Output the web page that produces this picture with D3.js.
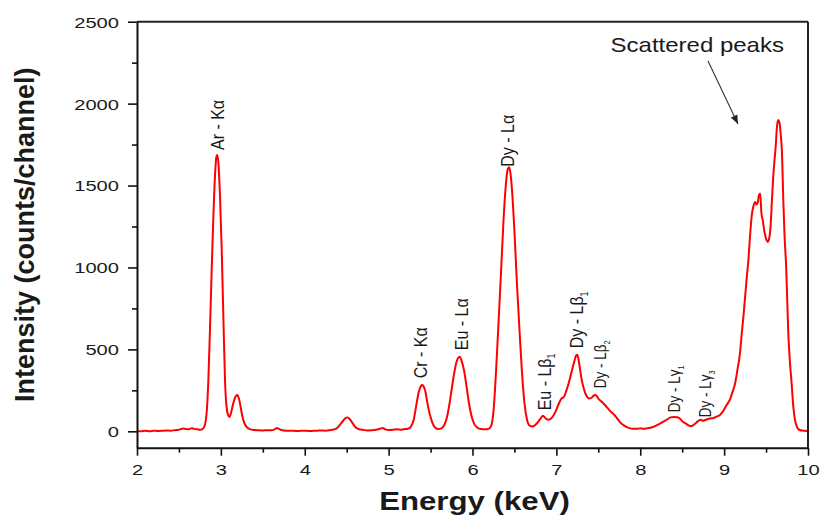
<!DOCTYPE html>
<html>
<head>
<meta charset="utf-8">
<script src="https://cdn.jsdelivr.net/npm/d3@7"></script>
<style>
  body { margin: 0; background: #fff; }
  svg { display: block; }
  text { font-family: "Liberation Sans", Arial, sans-serif; fill: #1a1a1a; }
</style>
</head>
<body>
<svg id="chart" width="820" height="515"></svg>
<script>
// spectrum (keV, counts/channel)
const energy = [
  2.00, 2.05, 2.10, 2.15, 2.20, 2.25, 2.30, 2.35, 2.40, 2.45, 2.50, 2.55, 2.58, 2.62, 2.65, 2.68, 2.72, 2.76, 2.79,
  2.81, 2.83, 2.85, 2.87, 2.89, 2.91, 2.93, 2.945, 2.956, 2.97, 2.99, 3.01, 3.03, 3.05, 3.07, 3.09, 3.105,
  3.12, 3.15, 3.175, 3.195, 3.215, 3.235, 3.255, 3.28, 3.31, 3.35, 3.40, 3.45, 3.50, 3.55, 3.60, 3.64, 3.67,
  3.70, 3.75, 3.80, 3.85, 3.90, 3.95, 4.00, 4.05, 4.10, 4.15, 4.20, 4.25, 4.30, 4.35, 4.39, 4.42, 4.46, 4.49,
  4.51, 4.54, 4.57, 4.60, 4.64, 4.70, 4.75, 4.80, 4.85, 4.90, 4.93, 4.96, 5.00, 5.05, 5.10, 5.15, 5.20, 5.24,
  5.27, 5.30, 5.33, 5.36, 5.385, 5.40, 5.415, 5.435, 5.46, 5.49, 5.52, 5.55, 5.59, 5.63, 5.66, 5.69, 5.72,
  5.75, 5.78, 5.81, 5.835, 5.85, 5.87, 5.90, 5.93, 5.96, 5.99, 6.02, 6.06, 6.10, 6.15, 6.19, 6.22, 6.25, 6.28,
  6.31, 6.34, 6.37, 6.40, 6.42, 6.435, 6.45, 6.47, 6.50, 6.53, 6.56, 6.59, 6.62, 6.65, 6.68, 6.72, 6.76, 6.80,
  6.84, 6.87, 6.91, 6.95, 6.99, 7.03, 7.06, 7.09, 7.12, 7.15, 7.18, 7.21, 7.235, 7.25, 7.27, 7.30, 7.33, 7.36,
  7.39, 7.42, 7.45, 7.47, 7.50, 7.53, 7.57, 7.60, 7.64, 7.67, 7.70, 7.73, 7.76, 7.80, 7.84, 7.88, 7.92, 7.96,
  8.00, 8.04, 8.08, 8.12, 8.16, 8.20, 8.24, 8.28, 8.32, 8.36, 8.40, 8.44, 8.47, 8.50, 8.54, 8.58, 8.61, 8.65,
  8.69, 8.72, 8.75, 8.79, 8.83, 8.87, 8.91, 8.95, 8.99, 9.03, 9.07, 9.10, 9.13, 9.16, 9.19, 9.21, 9.23, 9.25,
  9.27, 9.29, 9.31, 9.33, 9.35, 9.37, 9.385, 9.40, 9.415, 9.43, 9.445, 9.46, 9.48, 9.50, 9.52, 9.54, 9.555,
  9.57, 9.585, 9.60, 9.615, 9.63, 9.645, 9.66, 9.675, 9.69, 9.705, 9.72, 9.74, 9.765, 9.785, 9.805, 9.825,
  9.845, 9.87, 9.90, 9.94, 9.97, 10.00
];
const counts = [
  2, 0, 3, 1, 4, 2, 3, 5, 4, 7, 10, 17, 14, 12, 19, 15, 12, 10, 18,
  40, 110, 300, 620, 980, 1300, 1560, 1670, 1686, 1640, 1430, 1110, 690, 300, 140, 95, 88,
  110, 175, 212, 222, 200, 150, 95, 50, 25, 12, 8, 6, 5, 7, 6, 12, 21,
  12, 5, 3, 4, 2, 3, 4, 2, 3, 4, 5, 4, 7, 12, 22, 40, 66, 82,
  84, 72, 50, 28, 14, 8, 5, 6, 9, 16, 21, 12, 8, 9, 12, 10, 14, 17,
  32, 72, 160, 242, 276, 282, 276, 250, 180, 105, 55, 25, 14, 18, 35, 75, 150,
  250, 350, 425, 452, 455, 430, 370, 270, 165, 90, 45, 22, 14, 12, 15, 30, 120, 360,
  660, 970, 1290, 1520, 1600, 1612, 1585, 1480, 1220, 900, 620, 360, 170, 70, 35, 30, 45, 70,
  95, 80, 70, 85, 120, 170, 200, 210, 250, 300, 360, 420, 462, 468, 420, 320, 255, 215,
  200, 205, 220, 222, 200, 185, 165, 148, 125, 110, 95, 75, 55, 38, 25, 18, 16, 15,
  18, 15, 18, 22, 28, 38, 48, 60, 72, 85, 88, 86, 78, 62, 48, 35, 32, 45,
  62, 70, 65, 72, 78, 80, 90, 100, 125, 160, 195, 240, 290, 380, 480, 597, 700, 820,
  940, 1050, 1200, 1320, 1375, 1400, 1385, 1395, 1440, 1452, 1330, 1290, 1220, 1175, 1156, 1185, 1260,
  1410, 1550, 1650, 1740, 1860, 1900, 1885, 1810, 1700, 1420, 1200, 1000, 600, 420, 290, 150,
  68, 25, 8, 4, 3, 2
];

const xTicks = [2, 3, 4, 5, 6, 7, 8, 9, 10];
const xMinor = [2.5, 3.5, 4.5, 5.5, 6.5, 7.5, 8.5, 9.5];
const yTicks = [0, 500, 1000, 1500, 2000, 2500];
const yMinor = [250, 750, 1250, 1750, 2250];

// peak labels: name, subscript, anchor (keV, counts) at the bottom of the rotated text
const peakName = ['Ar - K\u03b1', 'Cr - K\u03b1', 'Eu - L\u03b1', 'Dy - L\u03b1', 'Eu - L\u03b2', 'Dy - L\u03b2', 'Dy - L\u03b2', 'Dy - L\u03b3', 'Dy - L\u03b3'];
const peakSub = ['', '', '', '', '1', '1', '2', '1', '3'];
const peakE = [2.96, 5.37, 5.86, 6.41, 6.85, 7.24, 7.52, 8.40, 8.77];
const peakI = [1717, 324, 495, 1615, 128, 507, 263, 116, 86];
const peakSmall = [false, false, false, false, false, false, true, true, true];

const x = d3.scaleLinear().domain([2, 10]).range([137, 808]);
const y = d3.scaleLinear().domain([-100, 2500]).range([447.7, 21.7]);
const svg = d3.select('#chart');
const SX = 1.3; // the original figure is stretched sideways

// spectrum
const line = d3.line().x((d, i) => x(energy[i])).y(d => y(d)).curve(d3.curveMonotoneX);
svg.append('path')
  .datum(counts)
  .attr('d', line)
  .attr('fill', 'none')
  .attr('stroke', '#ff0000')
  .attr('stroke-width', 2)
  .attr('stroke-linejoin', 'round');

// frame (top and right)
svg.append('line').attr('x1', x(2)).attr('x2', x(10)).attr('y1', y(2500)).attr('y2', y(2500))
  .attr('stroke', '#222').attr('stroke-width', 2);
svg.append('line').attr('x1', x(10)).attr('x2', x(10)).attr('y1', y(2500)).attr('y2', y(-100))
  .attr('stroke', '#222').attr('stroke-width', 2);

// x axis
const gx = svg.append('g').attr('transform', `translate(0,${y(-100)})`)
  .call(d3.axisBottom(x).tickValues(xTicks).tickSize(8).tickSizeOuter(0).tickFormat(d3.format('d')));
svg.append('g').attr('transform', `translate(0,${y(-100)})`)
  .call(d3.axisBottom(x).tickValues(xMinor).tickSize(5).tickSizeOuter(0).tickFormat(''))
  .call(g => g.select('.domain').remove());

// y axis
const gy = svg.append('g').attr('transform', `translate(${x(2)},0)`)
  .call(d3.axisLeft(y).tickValues(yTicks).tickSize(9).tickSizeOuter(0).tickFormat(d3.format('d')));
svg.append('g').attr('transform', `translate(${x(2)},0)`)
  .call(d3.axisLeft(y).tickValues(yMinor).tickSize(5).tickSizeOuter(0).tickFormat(''))
  .call(g => g.select('.domain').remove());

svg.selectAll('.domain').attr('stroke', '#111').attr('stroke-width', 2);
svg.selectAll('.tick line').attr('stroke', '#111').attr('stroke-width', 1.6);

gx.selectAll('.tick text')
  .attr('font-size', 15.5).attr('font-family', '"Liberation Sans", Arial, sans-serif').attr('fill', '#1a1a1a')
  .attr('y', 0).attr('dy', 0)
  .attr('transform', `translate(0,27.5) scale(${SX},1)`);
gy.selectAll('.tick text')
  .attr('font-size', 15.5).attr('font-family', '"Liberation Sans", Arial, sans-serif').attr('fill', '#1a1a1a')
  .attr('x', 0).attr('dy', '0.35em')
  .attr('transform', `translate(-18,0) scale(${SX},1)`);

// axis titles
svg.append('text')
  .attr('transform', `translate(${(x(2) + x(10)) / 2 + 2},510) scale(1.2,1)`)
  .attr('text-anchor', 'middle')
  .attr('font-size', 26).attr('font-weight', 'bold')
  .text('Energy (keV)');
svg.append('text')
  .attr('transform', `translate(34,${(y(2500) + y(-100)) / 2}) rotate(-90)`)
  .attr('text-anchor', 'middle')
  .attr('font-size', 27).attr('font-weight', 'bold')
  .text('Intensity (counts/channel)');

// peak labels
peakName.forEach((name, i) => {
  const fs = peakSmall[i] ? 13.5 : 16;
  const t = svg.append('text')
    .attr('transform', `translate(${x(peakE[i])},${y(peakI[i])}) scale(1.2,1) rotate(-90)`)
    .attr('dy', '0.36em')
    .attr('font-size', fs)
    .text(name);
  if (peakSub[i]) {
    t.append('tspan').attr('font-size', fs * 0.55).attr('dy', '0.45em').text(peakSub[i]);
  }
});

// scattered peaks annotation
svg.append('text')
  .attr('transform', `translate(${x(8.68)},${y(2317)}) scale(1.2,1)`)
  .attr('text-anchor', 'middle')
  .attr('font-size', 20)
  .text('Scattered peaks');

svg.append('defs').append('marker')
  .attr('id', 'arrow')
  .attr('viewBox', '0 0 10 10')
  .attr('refX', 10).attr('refY', 5)
  .attr('markerWidth', 9).attr('markerHeight', 9)
  .attr('markerUnits', 'userSpaceOnUse')
  .attr('orient', 'auto')
  .append('path').attr('d', 'M0,1 L10,5 L0,9 Z').attr('fill', '#222');

svg.append('line')
  .attr('x1', x(8.808)).attr('y1', y(2260))
  .attr('x2', x(9.165)).attr('y2', y(1875))
  .attr('stroke', '#333').attr('stroke-width', 1.1)
  .attr('marker-end', 'url(#arrow)');
</script>
</body>
</html>
